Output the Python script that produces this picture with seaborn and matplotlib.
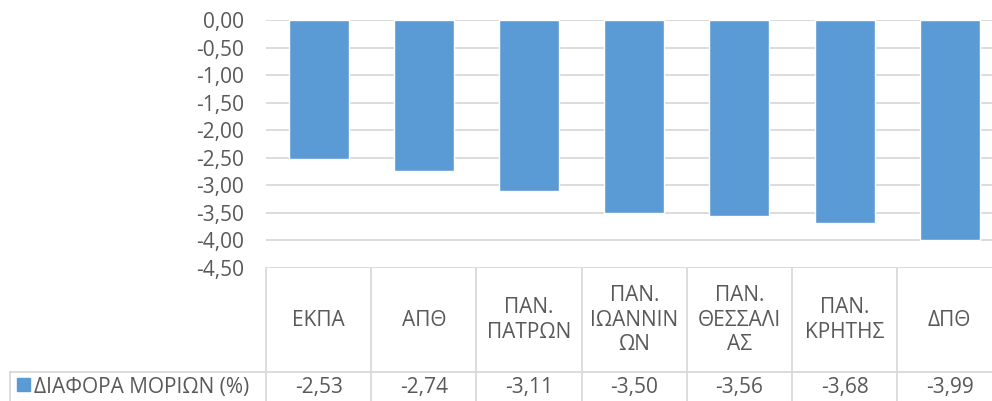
"""
Bar chart with an Excel-style data table underneath.
"""

import matplotlib
matplotlib.use("Agg")
import matplotlib.pyplot as plt
import matplotlib.transforms as mtransforms
from matplotlib.lines import Line2D
from matplotlib.patches import Rectangle
import pandas as pd
import seaborn as sns

categories = ["ΕΚΠΑ", "ΑΠΘ", "ΠΑΝ.\nΠΑΤΡΩΝ", "ΠΑΝ.\nΙΩΑΝΝΙΝ\nΩΝ",
              "ΠΑΝ.\nΘΕΣΣΑΛΙ\nΑΣ", "ΠΑΝ.\nΚΡΗΤΗΣ", "ΔΠΘ"]
values = [-2.53, -2.74, -3.11, -3.50, -3.56, -3.68, -3.99]
series_name = "ΔΙΑΦΟΡΑ ΜΟΡΙΩΝ (%)"
y_ticks = [0, -0.5, -1.0, -1.5, -2.0, -2.5, -3.0, -3.5, -4.0, -4.5]

BLUE = "#5b9bd5"
GRID = "#d9d9d9"
TEXT = "#595959"
W, H = 992, 401
FS = 15

sns.set_style("white")
plt.rcParams["font.family"] = ["Open Sans", "DejaVu Sans"]

df = pd.DataFrame({"cat": categories, "val": values})

fig = plt.figure(figsize=(W / 100, H / 100), dpi=100)
# plot area in pixels: left 266, top 20, bottom 268, column width ~105
ax = fig.add_axes([266 / W, (H - 268) / H, 7 * 105.2 / W, 248 / H])

sns.barplot(data=df, x="cat", y="val", color=BLUE, width=0.57,
            saturation=1, ax=ax)

ax.set_ylim(-4.5, 0)
ax.set_xlim(-0.5, len(categories) - 0.5)
ax.set_yticks(y_ticks)
ax.set_yticklabels([f"{v:.2f}".replace(".", ",") for v in y_ticks])
ax.tick_params(axis="y", length=0, pad=16, labelsize=FS, labelcolor=TEXT)
ax.set_xticks([])
ax.set_xlabel("")
ax.set_ylabel("")
for s in ax.spines.values():
    s.set_visible(False)
ax.yaxis.grid(True, color=GRID, linewidth=1.3)
ax.set_axisbelow(True)

# data table
trans = mtransforms.blended_transform_factory(ax.transData, fig.transFigure)
def fy(px):
    return 1 - px / H

line_kw = dict(color=GRID, linewidth=1.3)
for i in range(len(categories) + 1):
    fig.add_artist(Line2D([i - 0.5, i - 0.5], [fy(268), fy(H)],
                          transform=trans, **line_kw))
fig.add_artist(Line2D([10 / W, 1], [fy(372), fy(372)],
                      transform=fig.transFigure, **line_kw))
fig.add_artist(Line2D([10 / W, 10 / W], [fy(372), fy(H)],
                      transform=fig.transFigure, **line_kw))

for i, (c, v) in enumerate(zip(categories, values)):
    fig.text(i, fy(320), c, transform=trans, ha="center", va="center",
             fontsize=FS, color=TEXT, linespacing=1.2)
    fig.text(i, fy(387), f"{v:.2f}".replace(".", ","), transform=trans,
             ha="center", va="center", fontsize=FS, color=TEXT)

fig.add_artist(Rectangle((17 / W, fy(391)), 13 / W, 13 / H,
                         transform=fig.transFigure, color=BLUE))
fig.text(34 / W, fy(387), series_name, ha="left", va="center",
         fontsize=FS, color=TEXT)

fig.savefig("out.png", dpi=100)
